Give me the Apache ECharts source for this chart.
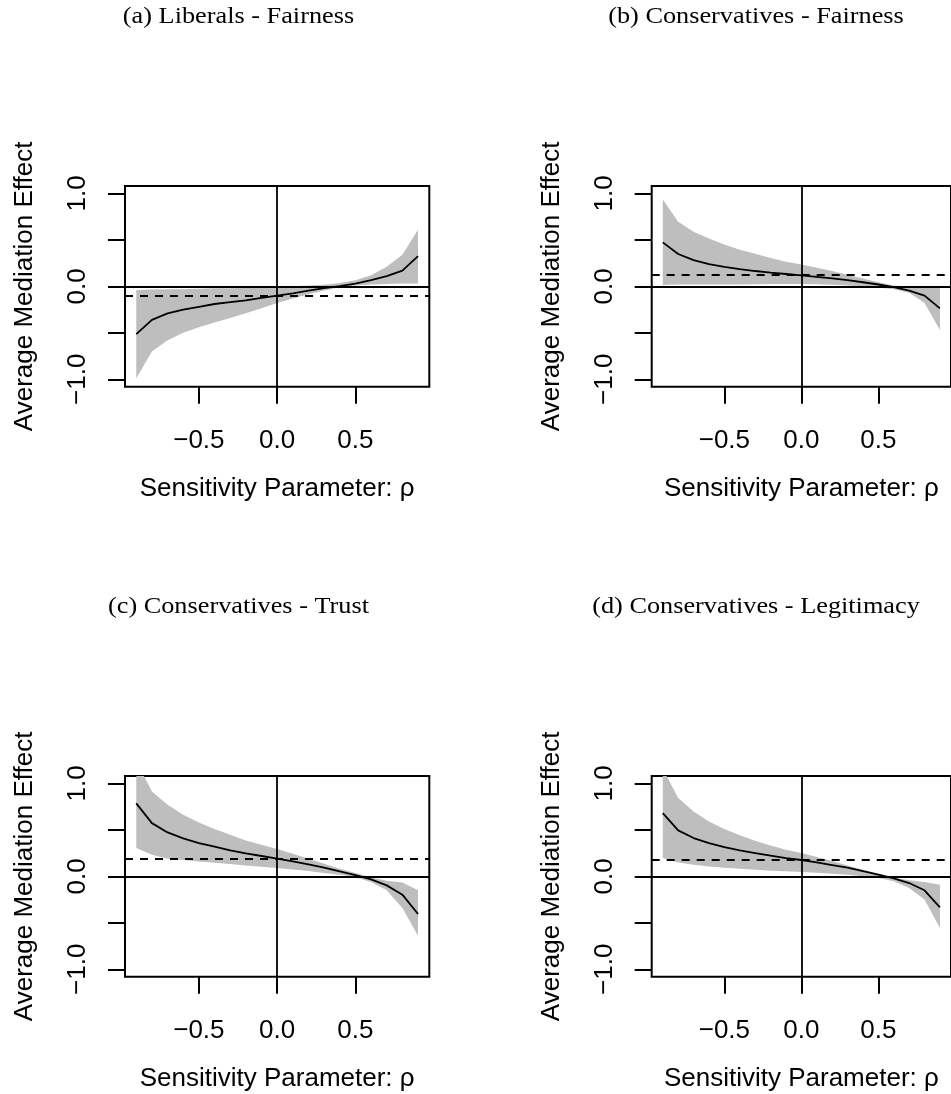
<!DOCTYPE html>
<html><head><meta charset="utf-8">
<script src="https://cdn.jsdelivr.net/npm/echarts@6/dist/echarts.min.js"></script>
<style>html,body{margin:0;padding:0;background:#fff}#c{width:951px;height:1094px}</style>
</head><body><div id="c"></div><script>
// Sensitivity parameter rho
const rho = [-0.9,-0.8,-0.7,-0.6,-0.5,-0.4,-0.3,-0.2,-0.1,0,0.1,0.2,0.3,0.4,0.5,0.6,0.7,0.8,0.9];
const xTicks = [-0.5, 0, 0.5];
const yTicks = [-1, -0.5, 0, 0.5, 1];
const yLabels = [-1, 0, 1];
const panelTitles = ['(a) Liberals - Fairness','(b) Conservatives - Fairness','(c) Conservatives - Trust','(d) Conservatives - Legitimacy'];

// (a) Liberals - Fairness
const libFairMean  = [-0.515,-0.36,-0.29,-0.25,-0.22,-0.19,-0.17,-0.15,-0.125,-0.10,-0.075,-0.047,-0.02,0.003,0.03,0.068,0.11,0.17,0.325];
const libFairLower = [-0.99,-0.70,-0.58,-0.50,-0.44,-0.39,-0.34,-0.29,-0.235,-0.18,-0.13,-0.085,-0.045,-0.01,0.01,0.02,0.025,0.03,0.03];
const libFairUpper = [-0.04,-0.035,-0.03,-0.03,-0.025,-0.02,-0.02,-0.015,-0.01,-0.005,0.0,0.008,0.018,0.035,0.065,0.12,0.21,0.34,0.61];
const libFairEst = -0.10;

// (b) Conservatives - Fairness
const conFairMean  = [0.473,0.348,0.283,0.24,0.21,0.185,0.165,0.148,0.133,0.118,0.103,0.086,0.066,0.044,0.02,-0.008,-0.045,-0.10,-0.237];
const conFairLower = [0.015,0.02,0.02,0.02,0.02,0.02,0.022,0.024,0.025,0.025,0.022,0.018,0.01,0.0,-0.012,-0.03,-0.07,-0.18,-0.47];
const conFairUpper = [0.935,0.695,0.588,0.516,0.45,0.395,0.35,0.305,0.265,0.235,0.2,0.165,0.125,0.085,0.045,0.008,-0.005,-0.01,-0.015];
const conFairEst = 0.118;

// (c) Conservatives - Trust
const conTrustMean  = [0.785,0.573,0.473,0.409,0.358,0.319,0.28,0.247,0.219,0.19,0.161,0.129,0.093,0.054,0.014,-0.032,-0.097,-0.197,-0.405];
const conTrustLower = [0.305,0.233,0.19,0.176,0.161,0.147,0.133,0.118,0.104,0.09,0.075,0.057,0.036,0.018,-0.01,-0.06,-0.15,-0.34,-0.638];
const conTrustUpper = [1.24,0.914,0.77,0.663,0.58,0.51,0.448,0.387,0.34,0.294,0.244,0.19,0.136,0.082,0.036,-0.01,-0.047,-0.065,-0.15];
const conTrustEst = 0.19;

// (d) Conservatives - Legitimacy
const conLegMean  = [0.681,0.495,0.412,0.358,0.315,0.28,0.251,0.222,0.197,0.176,0.151,0.122,0.093,0.057,0.018,-0.022,-0.072,-0.15,-0.333];
const conLegLower = [0.197,0.15,0.125,0.107,0.093,0.082,0.072,0.061,0.054,0.047,0.039,0.029,0.018,0.0,-0.018,-0.054,-0.125,-0.25,-0.556];
const conLegUpper = [1.16,0.842,0.699,0.591,0.509,0.441,0.384,0.333,0.287,0.25,0.208,0.165,0.118,0.072,0.029,-0.014,-0.043,-0.06,-0.09];
const conLegEst = 0.176;

const panels = [
  {mean: libFairMean, lo: libFairLower, hi: libFairUpper, est: libFairEst},
  {mean: conFairMean, lo: conFairLower, hi: conFairUpper, est: conFairEst},
  {mean: conTrustMean, lo: conTrustLower, hi: conTrustUpper, est: conTrustEst},
  {mean: conLegMean, lo: conLegLower, hi: conLegUpper, est: conLegEst}
];

const SANS = '"Liberation Sans", Arial, Helvetica, sans-serif';
const SERIF = '"Liberation Serif", "Times New Roman", serif';
const gridPos = [[125,186],[651.7,186],[125,776],[651.7,776]];
const titlePos = [[238.5,17],[756,17],[238.5,607],[756,607]];
const fmt = v => (v < 0 ? '\u2212' : '') + Math.abs(v).toFixed(1);

const grids = [], xAxes = [], yAxes = [], series = [], graphics = [];
panels.forEach((p, i) => {
  grids.push({left: gridPos[i][0], top: gridPos[i][1], width: 304.3, height: 200.7,
    show: true, borderColor: '#000', borderWidth: 2, backgroundColor: 'transparent'});
  xAxes.push({type: 'value', gridIndex: i, min: -0.972, max: 0.972, position: 'bottom',
    splitLine: {show: false}, axisLine: {show: false, onZero: false},
    axisTick: {show: true, inside: false, length: 17, customValues: xTicks, lineStyle: {color: '#000', width: 2}},
    axisLabel: {show: true, customValues: xTicks, formatter: fmt, color: '#000', fontSize: 26, fontFamily: SANS, margin: 41},
    name: 'Sensitivity Parameter: \u03c1', nameLocation: 'middle', nameGap: 89,
    nameTextStyle: {color: '#000', fontSize: 26, fontFamily: SANS}});
  yAxes.push({type: 'value', gridIndex: i, min: -1.08, max: 1.08, position: 'left',
    splitLine: {show: false}, axisLine: {show: false, onZero: false},
    axisTick: {show: true, inside: false, length: 17, customValues: yTicks, lineStyle: {color: '#000', width: 2}},
    axisLabel: {show: true, customValues: yLabels, formatter: fmt, rotate: 90, color: '#000', fontSize: 26, fontFamily: SANS, margin: 34},
    name: 'Average Mediation Effect', nameLocation: 'middle', nameGap: 87, nameRotate: 90,
    nameTextStyle: {color: '#000', fontSize: 26, fontFamily: SANS}});
  series.push({type: 'custom', xAxisIndex: i, yAxisIndex: i, clip: true, silent: true, z: 1,
    data: [[0, 0]],
    renderItem: (params, api) => {
      const pts = [];
      for (let k = 0; k < rho.length; k++) pts.push(api.coord([rho[k], p.hi[k]]));
      for (let k = rho.length - 1; k >= 0; k--) pts.push(api.coord([rho[k], p.lo[k]]));
      return {type: 'polygon', shape: {points: pts}, style: {fill: '#bebebe', stroke: null}};
    }});
  series.push({type: 'line', xAxisIndex: i, yAxisIndex: i, z: 5, silent: true,
    data: rho.map((r, k) => [r, p.mean[k]]), symbol: 'none',
    lineStyle: {color: '#000', width: 1.8},
    markLine: {silent: true, symbol: ['none', 'none'], label: {show: false},
      lineStyle: {color: '#000', width: 1.8, type: 'solid'},
      data: [{yAxis: 0}, {xAxis: 0}, {yAxis: p.est, lineStyle: {type: [8, 7], width: 1.8, color: '#000'}}]}});
  graphics.push({type: 'text', x: titlePos[i][0], y: titlePos[i][1], scaleX: 1.095,
    style: {text: panelTitles[i], fill: '#000', font: '24px ' + SERIF, textAlign: 'center', textVerticalAlign: 'middle'}});
});

const chart = echarts.init(document.getElementById('c'), null, {renderer: 'canvas'});
chart.setOption({animation: false, backgroundColor: '#fff', grid: grids, xAxis: xAxes, yAxis: yAxes, series: series, graphic: graphics});
</script></body></html>
